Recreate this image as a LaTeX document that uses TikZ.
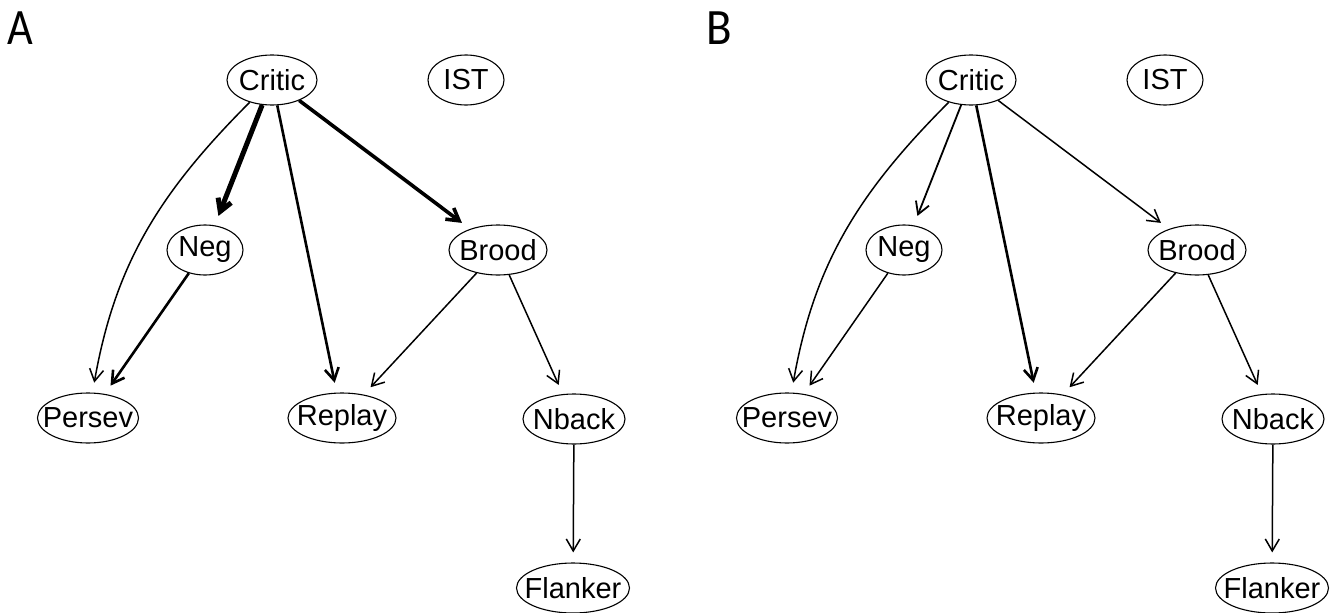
\documentclass[tikz,border=0pt]{standalone}
\usepackage{fontspec}
\setmainfont{Liberation Sans}
\newfontfamily\labfont{Carlito}
\usetikzlibrary{shapes.geometric,arrows.meta}
\newcommand{\zb}[1]{\makebox[0pt]{#1}}
\begin{document}
\begin{tikzpicture}[x=1pt,y=-1pt,
  nd/.style={ellipse,draw,line width=1.1pt,inner sep=0pt,minimum height=50pt,
    font=\fontsize{29}{30}\selectfont},
  ed/.style={-{Straight Barb[length=12pt,width=14pt]},line width=1.5pt,shorten >=10pt},
  mid/.style={line width=2.6pt},
  thk/.style={line width=3.6pt},
  vthk/.style={line width=5pt},
  lab/.style={font=\labfont\fontsize{51}{51}\selectfont,anchor=base west,inner sep=0pt}]
\useasboundingbox (0,0) rectangle (1334,613);

\node[lab] (la) at (7,45) {\scalebox{0.87}[1]{A}};
\node[lab] (lb) at (706,45) {\scalebox{0.92}[1]{B}};

\foreach \p/\dx in {a/0,b/699}{
  \node[nd,minimum width=90pt]  (\p crit)  at (272+\dx,80)  {\zb{Critic}};
  \node[nd,minimum width=76pt]  (\p ist)   at (466+\dx,80)  {\zb{IST}};
  \node[nd,minimum width=76pt]  (\p neg)   at (205+\dx,250) {\zb{Neg}};
  \node[nd,minimum width=98pt]  (\p brood) at (498+\dx,250) {\zb{Brood}};
  \node[nd,minimum width=101pt] (\p pers)  at (88+\dx,418)  {\zb{Persev}};
  \node[nd,minimum width=108pt] (\p repl)  at (342+\dx,418) {\zb{Replay}};
  \node[nd,minimum width=102pt] (\p nback) at (574+\dx,419) {\zb{Nback}};
  \node[nd,minimum width=113pt] (\p flank) at (573+\dx,588) {\zb{Flanker}};
}

% Panel A
\draw[ed] (acrit) to[out=-135,in=80] (apers);
\draw[ed,vthk] (acrit) -- (aneg);
\draw[ed,mid] (acrit) -- (arepl);
\draw[ed,thk] (acrit) -- (abrood);
\draw[ed,mid] (aneg) -- (apers);
\draw[ed] (abrood) -- (arepl);
\draw[ed] (abrood) -- (anback);
\draw[ed] (anback) -- (aflank);

% Panel B
\draw[ed] (bcrit) to[out=-135,in=80] (bpers);
\draw[ed,line width=1.8pt] (bcrit) -- (bneg);
\draw[ed,mid] (bcrit) -- (brepl);
\draw[ed] (bcrit) -- (bbrood);
\draw[ed] (bneg) -- (bpers);
\draw[ed] (bbrood) -- (brepl);
\draw[ed] (bbrood) -- (bnback);
\draw[ed] (bnback) -- (bflank);
\end{tikzpicture}
\end{document}
